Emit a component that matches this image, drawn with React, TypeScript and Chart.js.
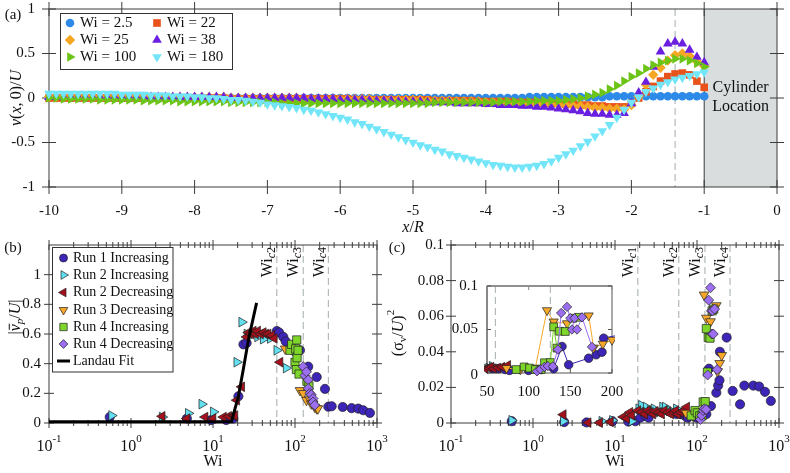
import React, { useEffect, useRef } from 'react';
import { Chart, registerables } from 'chart.js';

Chart.register(...registerables);

const FONT = '"Liberation Serif", "Times New Roman", serif';
const AXIS = '#3c3c3c';
const DASH = '#a3acac';
const TEXT = '#111111';
const EDGE = '#202020';

// ---------------- Panel (a) data ----------------
const xPos = [
  -10, -9.9, -9.8, -9.7, -9.6, -9.5, -9.4, -9.3, -9.2, -9.1,
  -9, -8.9, -8.8, -8.7, -8.6, -8.5, -8.4, -8.3, -8.2, -8.1,
  -8, -7.9, -7.8, -7.7, -7.6, -7.5, -7.4, -7.3, -7.2, -7.1,
  -7, -6.9, -6.8, -6.7, -6.6, -6.5, -6.4, -6.3, -6.2, -6.1,
  -6, -5.9, -5.8, -5.7, -5.6, -5.5, -5.4, -5.3, -5.2, -5.1,
  -5, -4.9, -4.8, -4.7, -4.6, -4.5, -4.4, -4.3, -4.2, -4.1,
  -4, -3.9, -3.8, -3.7, -3.6, -3.5, -3.4, -3.3, -3.2, -3.1,
  -3, -2.9, -2.8, -2.7, -2.6, -2.5, -2.4, -2.3, -2.2, -2.1,
  -2, -1.9, -1.8, -1.7, -1.6, -1.5, -1.4, -1.3, -1.2, -1.1,
  -1,
];
const vWi2p5 = [
  0, 0, 0, 0, 0, 0, 0, 0, 0, 0,
  0, 0, 0, 0, 0, 0, 0, 0, 0, 0,
  0, 0, 0, 0, 0, 0, 0, 0, 0, 0,
  0, 0, 0, 0, 0, 0, 0, 0, 0, 0,
  0, 0, 0, 0, 0, 0, 0, 0, 0, 0,
  0, 0, 0, 0, 0, 0, 0, 0, 0, 0,
  0, 0, 0, 0, 0, 0, 0.01, 0.01, 0.01, 0.01,
  0.01, 0.01, 0.01, 0.01, 0.01, 0.01, 0.01, 0.02, 0.02, 0.02,
  0.02, 0.02, 0.02, 0.02, 0.02, 0.02, 0.02, 0.02, 0.02, 0.02,
  0.02,
];
const vWi22 = [
  0, 0, 0, 0, 0, 0, 0, 0, 0, 0,
  0, 0, 0, 0, 0, 0, 0, 0, 0, 0,
  0, 0, 0, 0, 0, -0.01, -0.01, -0.01, -0.01, -0.01,
  -0.01, -0.01, -0.01, -0.01, -0.01, -0.01, -0.01, -0.01, -0.01, -0.01,
  -0.01, -0.01, -0.02, -0.02, -0.02, -0.02, -0.02, -0.02, -0.02, -0.02,
  -0.02, -0.02, -0.02, -0.03, -0.03, -0.03, -0.03, -0.03, -0.03, -0.04,
  -0.04, -0.04, -0.04, -0.04, -0.05, -0.05, -0.05, -0.05, -0.06, -0.06,
  -0.06, -0.07, -0.07, -0.08, -0.08, -0.09, -0.09, -0.1, -0.1, -0.1,
  -0.06, 0, 0.07, 0.13, 0.19, 0.24, 0.27, 0.28, 0.26, 0.19,
  0.12,
];
const vWi25 = [
  0.01, 0.01, 0.01, 0.01, 0.01, 0.01, 0.01, 0.01, 0.01, 0.01,
  0.01, 0.01, 0.01, 0.01, 0.01, 0.01, 0.01, 0.01, 0.01, 0.01,
  0.01, 0.01, 0.01, 0.01, 0.01, 0, 0, 0, 0, 0,
  0, 0, 0, 0, 0, -0.01, -0.01, -0.01, -0.01, -0.01,
  -0.01, -0.01, -0.01, -0.01, -0.01, -0.02, -0.02, -0.02, -0.02, -0.02,
  -0.02, -0.02, -0.03, -0.03, -0.03, -0.03, -0.04, -0.04, -0.04, -0.04,
  -0.05, -0.05, -0.05, -0.05, -0.06, -0.06, -0.06, -0.07, -0.07, -0.07,
  -0.08, -0.08, -0.09, -0.09, -0.1, -0.11, -0.11, -0.12, -0.12, -0.13,
  -0.08, 0.02, 0.15, 0.26, 0.34, 0.42, 0.48, 0.5, 0.47, 0.41,
  0.36,
];
const vWi38 = [
  0.01, 0.01, 0.01, 0.01, 0.01, 0.01, 0.01, 0.01, 0.01, 0.01,
  0.01, 0.01, 0.01, 0.01, 0.01, 0.01, 0.01, 0.01, 0.01, 0.01,
  0.01, 0.01, 0.01, 0.01, 0.01, 0, 0, 0, 0, 0,
  0, 0, 0, 0, 0, 0, -0.01, -0.01, -0.01, -0.01,
  -0.02, -0.02, -0.02, -0.02, -0.03, -0.03, -0.03, -0.03, -0.04, -0.04,
  -0.04, -0.04, -0.05, -0.05, -0.05, -0.05, -0.06, -0.06, -0.06, -0.06,
  -0.07, -0.07, -0.08, -0.08, -0.08, -0.09, -0.09, -0.1, -0.1, -0.11,
  -0.12, -0.13, -0.14, -0.15, -0.17, -0.18, -0.18, -0.19, -0.19, -0.17,
  -0.06, 0.06, 0.18, 0.35, 0.52, 0.61, 0.63, 0.61, 0.54, 0.46,
  0.4,
];
const vWi100 = [
  0, 0, -0.01, -0.01, -0.01, -0.01, -0.01, -0.02, -0.02, -0.02,
  -0.02, -0.02, -0.02, -0.03, -0.03, -0.03, -0.03, -0.03, -0.04, -0.04,
  -0.04, -0.04, -0.04, -0.04, -0.04, -0.05, -0.05, -0.05, -0.05, -0.05,
  -0.05, -0.05, -0.06, -0.06, -0.06, -0.06, -0.06, -0.06, -0.06, -0.06,
  -0.06, -0.06, -0.06, -0.06, -0.06, -0.06, -0.06, -0.06, -0.06, -0.06,
  -0.06, -0.06, -0.06, -0.05, -0.05, -0.05, -0.05, -0.05, -0.05, -0.05,
  -0.05, -0.05, -0.04, -0.04, -0.04, -0.04, -0.04, -0.03, -0.03, -0.03,
  -0.03, -0.02, -0.01, 0, 0.02, 0.04, 0.06, 0.1, 0.14, 0.19,
  0.24, 0.28, 0.33, 0.37, 0.4, 0.42, 0.44, 0.44, 0.42, 0.39,
  0.35,
];
const vWi180 = [
  0.05, 0.05, 0.05, 0.05, 0.05, 0.05, 0.05, 0.05, 0.05, 0.05,
  0.04, 0.04, 0.04, 0.04, 0.03, 0.03, 0.03, 0.02, 0.02, 0.02,
  0.01, 0.01, 0, 0, -0.01, -0.02, -0.02, -0.03, -0.04, -0.05,
  -0.07, -0.08, -0.09, -0.1, -0.11, -0.13, -0.14, -0.16, -0.18, -0.2,
  -0.22, -0.24, -0.27, -0.29, -0.32, -0.35, -0.38, -0.41, -0.44, -0.47,
  -0.5, -0.53, -0.55, -0.58, -0.6, -0.63, -0.65, -0.67, -0.69, -0.71,
  -0.73, -0.75, -0.76, -0.77, -0.78, -0.78, -0.77, -0.76, -0.74, -0.71,
  -0.67, -0.63, -0.59, -0.54, -0.49, -0.43, -0.37, -0.3, -0.22, -0.13,
  -0.05, 0.01, 0.07, 0.11, 0.15, 0.18, 0.21, 0.23, 0.25, 0.27,
  0.29,
];
const seriesA = [vWi2p5, vWi22, vWi25, vWi38, vWi100, vWi180];
const legendA = ['Wi = 2.5', 'Wi = 22', 'Wi = 25', 'Wi = 38', 'Wi = 100', 'Wi = 180'];
const xTicksA = [-10, -9, -8, -7, -6, -5, -4, -3, -2, -1, 0];
const yTicksA = [-1, -0.5, 0, 0.5, 1];
const yTickLabelsA = ['-1', '-0.5', '0', '0.5', '1'];
const cylinderLabel = ['Cylinder', 'Location'];
const dashA = -1.4;

// ---------------- Panel (b) data: |v_p/U| vs Wi ----------------
const vpRun1Inc = [
  [0.55, 0.04], [4.8, 0.03], [9.5, 0.02], [14.5, 0.02], [17.7, 0.03], [20.4, 0.18], [23.5, 0.53],
  [25.7, 0.54], [60, 0.62], [64, 0.61], [72, 0.58], [77, 0.55], [100, 0.48], [115, 0.49],
  [145, 0.38], [184, 0.31], [232, 0.23], [255, 0.11], [280, 0.113], [382, 0.108], [490, 0.1],
  [590, 0.097], [680, 0.086], [820, 0.068],
];
const vpRun2Inc = [
  [0.58, 0.05], [2.4, 0.04], [5.0, 0.065], [7.3, 0.127], [10.1, 0.075], [19.5, 0.41], [22.4, 0.68],
  [26, 0.6], [29, 0.59], [35, 0.58], [41, 0.565], [50, 0.57], [60, 0.49], [78, 0.37],
];
const vpRun2Dec = [
  [2.4, 0.045], [4.8, 0.03], [8.0, 0.04], [10, 0.03], [13.4, 0.04], [15.5, 0.045], [17.7, 0.05],
  [18.5, 0.05], [19.5, 0.154], [22.4, 0.244], [25.7, 0.58], [27, 0.61], [29, 0.6], [31, 0.62],
  [33, 0.6], [35, 0.62], [38, 0.6], [41, 0.61], [44, 0.6], [47, 0.6], [52, 0.59], [56, 0.57],
  [65.6, 0.41],
];
const vpRun3Dec = [
  [76, 0.5], [115, 0.22], [126, 0.2], [138, 0.154], [152, 0.158], [158, 0.13], [166, 0.13],
  [174, 0.108], [184, 0.097], [190, 0.097],
];
const vpRun4Inc = [
  [87, 0.49], [91, 0.53], [100, 0.41], [102, 0.5], [105, 0.56], [106, 0.44], [109, 0.49],
  [104, 0.36], [112, 0.33], [140, 0.28], [148, 0.25],
];
const vpRun4Dec = [
  [126, 0.38], [132, 0.32], [138, 0.345], [145, 0.29], [145, 0.233], [152, 0.2], [158, 0.19],
  [166, 0.165], [166, 0.142], [174, 0.12],
];
const landauFit = [[0.1, 0.008], [16.8, 0.008], [18.0, 0.07], [20.4, 0.18], [23.4, 0.36], [27, 0.56], [34, 0.81]];
const legendRuns = ['Run 1 Increasing', 'Run 2 Increasing', 'Run 2 Decreasing', 'Run 3 Decreasing', 'Run 4 Increasing', 'Run 4 Decreasing'];
const landauLabel = 'Landau Fit';
const yTicksB = [0, 0.2, 0.4, 0.6, 0.8, 1];
const yTickLabelsB = ['0', '0.2', '0.4', '0.6', '0.8', '1'];
const wiCritB = [60, 126, 255];
const wiCritLabelsB = ['2', '3', '4'];

// ---------------- Panel (c) data: (sigma_v/U)^2 vs Wi ----------------
const sgRun1Inc = [
  [0.55, 0.001], [2.4, 0.0005], [4.5, 0.0003], [9.3, 0.001], [14.5, 0.0008], [17.7, 0.001],
  [20.4, 0.003], [23.5, 0.004], [25.7, 0.003], [57, 0.005], [64, 0.005], [72, 0.004], [77, 0.003],
  [100, 0.003], [115, 0.004], [130, 0.005], [140, 0.0305], [148, 0.0095], [172, 0.017], [181, 0.021],
  [188, 0.024], [190, 0.04], [230, 0.048], [272, 0.018], [335, 0.0105], [378, 0.021], [486, 0.021],
  [572, 0.0205], [675, 0.0175], [795, 0.0124],
];
const sgRun2Inc = [
  [0.55, 0.0015], [2.34, 0.001], [6.9, 0.001], [9.3, 0.0015], [16, 0.001], [19.5, 0.008], [21, 0.01],
  [24, 0.009], [27, 0.007], [30, 0.008], [34, 0.006], [38, 0.009], [41, 0.009], [46, 0.007],
  [52, 0.006], [56, 0.008],
];
const sgRun2Dec = [
  [2.34, 0.0047], [4.7, 0.0002], [6.5, 0.0002], [8.8, 0.0006], [12.6, 0.0034], [13.9, 0.0025],
  [15.2, 0.006], [16, 0.0043], [19, 0.007], [21, 0.006], [23, 0.005], [25, 0.007], [27, 0.006],
  [29, 0.005], [31, 0.0065], [34, 0.006], [37, 0.005], [40, 0.007], [44, 0.006], [48, 0.005],
  [52, 0.006], [55, 0.007], [58, 0.005], [63, 0.006], [68, 0.007], [75, 0.009],
];
const sgRun3Dec = [
  [73.5, 0.0056], [90, 0.004], [108, 0.006], [122, 0.072], [130, 0.059], [146, 0.057],
  [172, 0.066], [178, 0.029], [189, 0.0335], [200, 0.038],
];
const sgRun4Inc = [
  [85, 0.004], [94.6, 0.007], [101, 0.0057], [108, 0.004], [115, 0.004], [119, 0.0118],
  [126, 0.012], [130, 0.053], [134, 0.0286], [137, 0.048], [144, 0.0477], [153, 0.063], [160, 0.064],
];
const sgRun4Dec = [
  [110, 0.002], [114, 0.0043], [119, 0.007], [123, 0.008], [129, 0.0076], [135, 0.027],
  [139, 0.069], [146, 0.076], [150, 0.063], [155, 0.063], [152, 0.05], [158, 0.05], [164, 0.064],
  [176, 0.03],
];
const yTicksC = [0, 0.02, 0.04, 0.06, 0.08, 0.1];
const yTickLabelsC = ['0', '0.02', '0.04', '0.06', '0.08', '0.1'];
const wiCritC = [19, 60, 125, 253];
const wiCritLabelsC = ['1', '2', '3', '4'];
const insetXTicks = [50, 100, 150, 200];
const insetYTicks = [0, 0.05, 0.1];
const insetYLabels = ['0', '0.05', '0.1'];
const insetCrit = [60, 126];

const logMajor = [0.1, 1, 10, 100, 1000];
const logExp = ['-1', '0', '1', '2', '3'];
const logMinor = [0.2, 0.3, 0.4, 0.5, 0.6, 0.7, 0.8, 0.9, 2, 3, 4, 5, 6, 7, 8, 9, 20, 30, 40, 50, 60, 70, 80, 90, 200, 300, 400, 500, 600, 700, 800, 900];

// ---------------- styles ----------------
const A_STYLE = [
  { color: '#2d8ae8', shape: 'circle', rot: 0, r: 4.3 },
  { color: '#e8531c', shape: 'rect', rot: 0, r: 5.4 },
  { color: '#f5a623', shape: 'rectRot', rot: 0, r: 5.2 },
  { color: '#6a1fe0', shape: 'triangle', rot: 0, r: 5.6 },
  { color: '#6cc417', shape: 'triangle', rot: 90, r: 5.6 },
  { color: '#72e6f8', shape: 'triangle', rot: 180, r: 5.6 },
];
const RUN_STYLE = [
  { color: '#3d25b8', shape: 'circle', rot: 0, r: 4.6 },
  { color: '#62e0f0', shape: 'triangle', rot: 90, r: 5.6 },
  { color: '#a3121c', shape: 'triangle', rot: -90, r: 5.6 },
  { color: '#f7a82a', shape: 'triangle', rot: 180, r: 5.6 },
  { color: '#7fd62a', shape: 'rect', rot: 0, r: 5.8 },
  { color: '#9c6ff0', shape: 'rectRot', rot: 0, r: 5 },
];

// ---------------- drawing helpers ----------------
type Seg = { t: string; it?: boolean; sz?: number; dy?: number; bar?: boolean };

function segFont(s: Seg, base: number) {
  return `${s.it ? 'italic ' : ''}${s.sz ?? base}px ${FONT}`;
}
function drawRich(ctx: any, segs: Seg[], x: number, y: number, align: string, base: number) {
  ctx.save();
  ctx.fillStyle = TEXT;
  ctx.textBaseline = 'middle';
  ctx.textAlign = 'left';
  let w = 0;
  for (const s of segs) { ctx.font = segFont(s, base); w += ctx.measureText(s.t).width; }
  let cx = align === 'left' ? x : align === 'center' ? x - w / 2 : x - w;
  for (const s of segs) {
    ctx.font = segFont(s, base);
    const sw = ctx.measureText(s.t).width;
    ctx.fillText(s.t, cx, y + (s.dy ?? 0));
    if (s.bar) {
      ctx.strokeStyle = TEXT; ctx.lineWidth = 1;
      ctx.beginPath(); ctx.moveTo(cx + 1.5, y - base * 0.42); ctx.lineTo(cx + sw + 0.5, y - base * 0.42); ctx.stroke();
    }
    cx += sw;
  }
  ctx.restore();
}
function drawRichRot(ctx: any, segs: Seg[], x: number, y: number, base: number, align = 'center') {
  ctx.save(); ctx.translate(x, y); ctx.rotate(-Math.PI / 2);
  drawRich(ctx, segs, 0, 0, align, base);
  ctx.restore();
}
function txt(ctx: any, s: string, x: number, y: number, align: string, size: number, italic = false) {
  drawRich(ctx, [{ t: s, it: italic }], x, y, align, size);
}
function ln(ctx: any, x1: number, y1: number, x2: number, y2: number, color = AXIS, lw = 1, dash: number[] = []) {
  ctx.save(); ctx.strokeStyle = color; ctx.lineWidth = lw; ctx.setLineDash(dash);
  ctx.beginPath(); ctx.moveTo(x1, y1); ctx.lineTo(x2, y2); ctx.stroke(); ctx.restore();
}
function frame(ctx: any, a: any, color = AXIS, lw = 1) {
  ctx.save(); ctx.strokeStyle = color; ctx.lineWidth = lw;
  ctx.strokeRect(a.left, a.top, a.right - a.left, a.bottom - a.top); ctx.restore();
}
function xTickMarks(ctx: any, sx: any, a: any, vals: number[], len: number, color = AXIS) {
  for (const v of vals) {
    const p = sx.getPixelForValue(v);
    ln(ctx, p, a.bottom - len, p, a.bottom + len, color);
    ln(ctx, p, a.top - len, p, a.top + len, color);
  }
}
function yTickMarks(ctx: any, sy: any, a: any, vals: number[], len: number, color = AXIS) {
  for (const v of vals) {
    const p = sy.getPixelForValue(v);
    ln(ctx, a.left - len, p, a.left + len, p, color);
    ln(ctx, a.right - len, p, a.right + len, p, color);
  }
}
function drawMarker(ctx: any, st: any, x: number, y: number, r: number, stroke: string | null, lw: number) {
  ctx.save(); ctx.translate(x, y); ctx.rotate((st.rot * Math.PI) / 180);
  ctx.beginPath();
  if (st.shape === 'circle') ctx.arc(0, 0, r, 0, Math.PI * 2);
  else if (st.shape === 'rect') { const s = r * Math.SQRT1_2; ctx.rect(-s, -s, 2 * s, 2 * s); }
  else if (st.shape === 'rectRot') { ctx.moveTo(0, -r); ctx.lineTo(r, 0); ctx.lineTo(0, r); ctx.lineTo(-r, 0); ctx.closePath(); }
  else { const c = Math.cos(Math.PI / 6) * r; ctx.moveTo(0, -r); ctx.lineTo(c, r / 2); ctx.lineTo(-c, r / 2); ctx.closePath(); }
  ctx.fillStyle = st.color; ctx.fill();
  if (stroke) { ctx.strokeStyle = stroke; ctx.lineWidth = lw; ctx.stroke(); }
  ctx.restore();
}
function logLabels(ctx: any, sx: any, y: number) {
  logMajor.forEach((v, i) => {
    drawRich(ctx, [{ t: '10' }, { t: logExp[i], sz: 11, dy: -8 }], sx.getPixelForValue(v), y, 'center', 16);
  });
}
function critLine(ctx: any, sx: any, a: any, v: number, sub: string) {
  const p = sx.getPixelForValue(v);
  ln(ctx, p, a.top, p, a.bottom, DASH, 1, [7, 4]);
  drawRichRot(ctx, [{ t: 'Wi' }, { t: 'c', it: true, sz: 12, dy: 4 }, { t: sub, sz: 12, dy: 4 }], p - 9, a.top + 2, 16, 'right');
}

function baseOptions(pad: any, xs: any, ys: any) {
  return {
    responsive: false,
    maintainAspectRatio: false,
    animation: false,
    devicePixelRatio: 1,
    events: [],
    layout: { padding: pad },
    plugins: { legend: { display: false }, tooltip: { enabled: false } },
    scales: { x: { ...xs, display: false }, y: { ...ys, display: false } },
  };
}

function scatterSet(data: any[], st: any, i: number, edge: boolean, extra: any = {}) {
  return {
    data: data.map((p: any) => ({ x: p[0], y: p[1] })),
    pointStyle: st.shape,
    rotation: st.rot,
    pointRadius: st.r,
    pointBackgroundColor: st.color,
    pointBorderColor: edge ? EDGE : st.color,
    pointBorderWidth: edge ? 0.7 : 0,
    backgroundColor: st.color,
    borderColor: st.color,
    showLine: false,
    clip: false,
    order: -i,
    ...extra,
  };
}

// ---------------- chart configs ----------------
function configA() {
  const plugin = {
    id: 'panelA',
    beforeDatasetsDraw(chart: any) {
      const { ctx, chartArea: a } = chart;
      const sx = chart.scales.x, sy = chart.scales.y;
      const x1 = sx.getPixelForValue(-1), x0 = sx.getPixelForValue(0);
      ctx.save();
      ctx.fillStyle = '#d9dddd';
      ctx.fillRect(x1, a.top, x0 - x1, a.bottom - a.top);
      ctx.restore();
      const dx = sx.getPixelForValue(dashA);
      ln(ctx, dx, a.top, dx, a.bottom, DASH, 1, [7, 4]);
      frame(ctx, a);
      ln(ctx, x1, a.top, x1, a.bottom);
      xTickMarks(ctx, sx, a, xTicksA, 7);
      yTickMarks(ctx, sy, a, yTicksA, 7);
      xTicksA.forEach((v) => txt(ctx, String(v), sx.getPixelForValue(v), 211, 'center', 15));
      yTicksA.forEach((v, i) => txt(ctx, yTickLabelsA[i], 35, sy.getPixelForValue(v), 'right', 15));
      const cx = (x1 + x0) / 2;
      txt(ctx, cylinderLabel[0], cx, 88, 'center', 16);
      txt(ctx, cylinderLabel[1], cx, 107, 'center', 16);
      drawRich(ctx, [{ t: 'x', it: true }, { t: '/' }, { t: 'R', it: true }], (a.left + a.right) / 2, 228, 'center', 16);
      drawRichRot(ctx, [{ t: 'v', it: true }, { t: '(' }, { t: 'x', it: true }, { t: ',\u20090)/' }, { t: 'U', it: true }], 17, (a.top + a.bottom) / 2, 16);
      txt(ctx, '(a)', 13, 15, 'center', 15);
    },
    afterDatasetsDraw(chart: any) {
      const { ctx } = chart;
      ctx.save();
      ctx.fillStyle = '#ffffff'; ctx.strokeStyle = '#333'; ctx.lineWidth = 1;
      ctx.fillRect(60.5, 13.5, 172, 56); ctx.strokeRect(60.5, 13.5, 172, 56);
      ctx.restore();
      const rows = [23, 40, 57];
      const cols = [[70, 80], [157, 167]];
      legendA.forEach((lab, i) => {
        const col = i % 2, row = Math.floor(i / 2);
        drawMarker(ctx, A_STYLE[i], cols[col][0], rows[row], A_STYLE[i].r, null, 0);
        txt(ctx, lab, cols[col][1], rows[row], 'left', 15);
      });
    },
  };
  return {
    type: 'scatter',
    data: {
      datasets: seriesA.map((arr, i) =>
        scatterSet(arr.map((v, k) => [xPos[k], v]), A_STYLE[i], i, false)),
    },
    options: baseOptions({ left: 49, right: 13, top: 9, bottom: 286 }, { type: 'linear', min: -10, max: 0 }, { type: 'linear', min: -1, max: 1 }),
    plugins: [plugin],
  };
}

function configB() {
  const plugin = {
    id: 'panelB',
    beforeDatasetsDraw(chart: any) {
      const { ctx, chartArea: a } = chart;
      const sx = chart.scales.x, sy = chart.scales.y;
      wiCritB.forEach((v, i) => critLine(ctx, sx, a, v, wiCritLabelsB[i]));
      frame(ctx, a);
      xTickMarks(ctx, sx, a, logMajor, 5);
      xTickMarks(ctx, sx, a, logMinor, 3);
      yTickMarks(ctx, sy, a, yTicksB, 5);
      logLabels(ctx, sx, 447);
      yTicksB.forEach((v, i) => txt(ctx, yTickLabelsB[i], 41, sy.getPixelForValue(v), 'right', 15));
      txt(ctx, 'Wi', (a.left + a.right) / 2, 462, 'center', 16);
      drawRichRot(ctx, [{ t: '|' }, { t: 'v', it: true, bar: true }, { t: 'p', it: true, sz: 11, dy: 4 }, { t: '/' }, { t: 'U', it: true }, { t: '|' }], 16, 317, 16);
      txt(ctx, '(b)', 13, 248, 'center', 15);
    },
    afterDatasetsDraw(chart: any) {
      const { ctx } = chart;
      ctx.save();
      ctx.fillStyle = '#ffffff'; ctx.strokeStyle = '#333'; ctx.lineWidth = 1;
      ctx.fillRect(52.5, 247.5, 120.5, 124.5); ctx.strokeRect(52.5, 247.5, 120.5, 124.5);
      ctx.restore();
      const rows = [258, 275, 292.5, 310, 327, 344, 361];
      legendRuns.forEach((lab, i) => {
        drawMarker(ctx, RUN_STYLE[i], 63.5, rows[i], RUN_STYLE[i].r - 0.6, EDGE, 0.7);
        txt(ctx, lab, 73, rows[i], 'left', 14);
      });
      ln(ctx, 57, rows[6], 70, rows[6], '#000', 3);
      txt(ctx, landauLabel, 73, rows[6], 'left', 14);
    },
  };
  const runs = [vpRun1Inc, vpRun2Inc, vpRun2Dec, vpRun3Dec, vpRun4Inc, vpRun4Dec];
  const sets: any[] = runs.map((d, i) => scatterSet(d, RUN_STYLE[i], i, true));
  sets.push({
    data: landauFit.map((p) => ({ x: p[0], y: p[1] })),
    showLine: true, pointRadius: 0, borderColor: '#000000', borderWidth: 3, clip: false, order: -100,
  });
  return {
    type: 'scatter',
    data: { datasets: sets },
    options: baseOptions({ left: 49, right: 413, top: 245, bottom: 50 }, { type: 'logarithmic', min: 0.1, max: 1000 }, { type: 'linear', min: 0, max: 1.2 }),
    plugins: [plugin],
  };
}

const sigmaRuns = [sgRun1Inc, sgRun2Inc, sgRun2Dec, sgRun3Dec, sgRun4Inc, sgRun4Dec];

function configC() {
  const plugin = {
    id: 'panelC',
    beforeDatasetsDraw(chart: any) {
      const { ctx, chartArea: a } = chart;
      const sx = chart.scales.x, sy = chart.scales.y;
      wiCritC.forEach((v, i) => critLine(ctx, sx, a, v, wiCritLabelsC[i]));
      frame(ctx, a);
      xTickMarks(ctx, sx, a, logMajor, 5);
      xTickMarks(ctx, sx, a, logMinor, 3);
      yTickMarks(ctx, sy, a, yTicksC, 5);
      logLabels(ctx, sx, 447);
      yTicksC.forEach((v, i) => txt(ctx, yTickLabelsC[i], 444, sy.getPixelForValue(v), 'right', 15));
      txt(ctx, 'Wi', (a.left + a.right) / 2, 462, 'center', 16);
      drawRichRot(ctx, [{ t: '(\u03c3' }, { t: 'v', sz: 11, dy: 4 }, { t: '/' }, { t: 'U', it: true }, { t: ')' }, { t: '2', sz: 11, dy: -8 }], 399, 333, 16);
      txt(ctx, '(c)', 397, 248, 'center', 15);
    },
  };
  return {
    type: 'scatter',
    data: { datasets: sigmaRuns.map((d, i) => scatterSet(d, RUN_STYLE[i], i, true)) },
    options: baseOptions({ left: 451, right: 11, top: 245, bottom: 50 }, { type: 'logarithmic', min: 0.1, max: 1000 }, { type: 'linear', min: 0, max: 0.1 }),
    plugins: [plugin],
  };
}

function configInset() {
  const plugin = {
    id: 'inset',
    beforeDatasetsDraw(chart: any) {
      const { ctx, chartArea: a } = chart;
      const sx = chart.scales.x, sy = chart.scales.y;
      ctx.save(); ctx.fillStyle = '#ffffff';
      ctx.fillRect(a.left, a.top, a.right - a.left, a.bottom - a.top); ctx.restore();
      insetCrit.forEach((v) => {
        const p = sx.getPixelForValue(v);
        ln(ctx, p, a.top, p, a.bottom, DASH, 1, [7, 4]);
      });
      frame(ctx, a, '#555', 1);
      ln(ctx, a.left, a.top, a.left, a.bottom, '#888', 2);
      ln(ctx, a.left, a.top, a.right, a.top, '#888', 1.5);
      insetXTicks.forEach((v) => {
        const p = sx.getPixelForValue(v);
        ln(ctx, p, a.bottom, p, a.bottom - 4, '#555');
        ln(ctx, p, a.top, p, a.top + 4, '#888');
        txt(ctx, String(v), p, 392, 'center', 15);
      });
      insetYTicks.forEach((v, i) => {
        const p = sy.getPixelForValue(v);
        ln(ctx, a.left, p, a.left + 4, p, '#555');
        ln(ctx, a.right, p, a.right - 4, p, '#555');
        txt(ctx, insetYLabels[i], 478, p + (i === 0 ? 2 : 0), 'right', 15);
      });
    },
  };
  return {
    type: 'scatter',
    data: {
      datasets: sigmaRuns.map((d, i) =>
        scatterSet(d, RUN_STYLE[i], i, true, { showLine: true, borderWidth: 1, clip: 3, pointRadius: RUN_STYLE[i].r - 0.3 })),
    },
    options: baseOptions({ left: 487, right: 178, top: 286, bottom: 100 }, { type: 'linear', min: 50, max: 200 }, { type: 'linear', min: 0, max: 0.1 }),
    plugins: [plugin],
  };
}

export default function App() {
  const refA = useRef<HTMLCanvasElement>(null);
  const refB = useRef<HTMLCanvasElement>(null);
  const refC = useRef<HTMLCanvasElement>(null);
  const refI = useRef<HTMLCanvasElement>(null);

  useEffect(() => {
    const charts = [
      new Chart(refA.current as any, configA() as any),
      new Chart(refB.current as any, configB() as any),
      new Chart(refC.current as any, configC() as any),
      new Chart(refI.current as any, configInset() as any),
    ];
    return () => charts.forEach((c) => c.destroy());
  }, []);

  const st: any = { position: 'absolute', left: 0, top: 0, width: 790, height: 473 };
  return (
    <div style={{ position: 'fixed', left: 0, top: 0, width: 790, height: 473, background: '#ffffff', overflow: 'hidden' }}>
      <canvas ref={refA} width={790} height={473} style={st} />
      <canvas ref={refB} width={790} height={473} style={st} />
      <canvas ref={refC} width={790} height={473} style={st} />
      <canvas ref={refI} width={790} height={473} style={st} />
    </div>
  );
}
